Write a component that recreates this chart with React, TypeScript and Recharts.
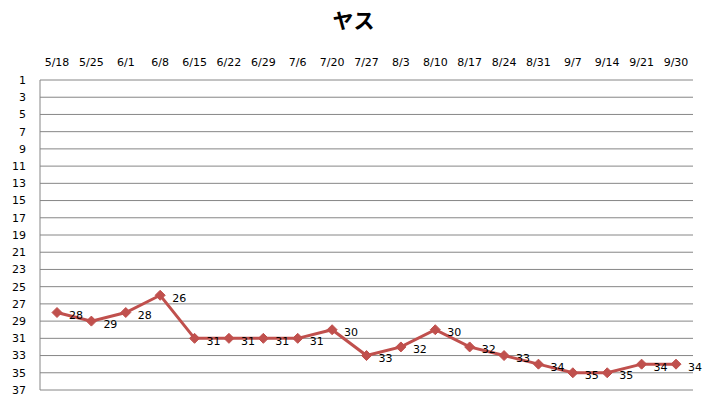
import { LineChart, Line, XAxis, YAxis, CartesianGrid, LabelList } from 'recharts'

const dates = [
  '5/18', '5/25', '6/1', '6/8', '6/15', '6/22', '6/29', '7/6', '7/20', '7/27',
  '8/3', '8/10', '8/17', '8/24', '8/31', '9/7', '9/14', '9/21', '9/30',
]
const ranks = [28, 29, 28, 26, 31, 31, 31, 31, 30, 33, 32, 30, 32, 33, 34, 35, 35, 34, 34]
const yTicks = [1, 3, 5, 7, 9, 11, 13, 15, 17, 19, 21, 23, 25, 27, 29, 31, 33, 35, 37]

const data = dates.map((date, i) => ({ date, rank: ranks[i] }))

const lineColor = '#C0504D'
const gridColor = '#868686'
const font = '"DejaVu Sans", sans-serif'

function Diamond(props: any) {
  const { cx, cy } = props
  if (cx == null || cy == null) return null
  const r = 5
  return (
    <polygon
      points={`${cx},${cy - r} ${cx + r},${cy} ${cx},${cy + r} ${cx - r},${cy}`}
      fill={lineColor}
      stroke={lineColor}
    />
  )
}

function RankLabel(props: any) {
  const { x, y, value } = props
  return (
    <text x={x + 12} y={y + 3} fontSize={11} fontFamily={font} fill="#000" dominantBaseline="central">
      {value}
    </text>
  )
}

export default function App() {
  return (
    <div style={{ position: 'fixed', left: 0, top: 0, width: 707, height: 400, background: '#fff' }}>
      <div
        style={{
          position: 'absolute',
          top: 4,
          left: 0,
          width: 707,
          textAlign: 'center',
          fontFamily: '"Noto Sans CJK JP", sans-serif',
          fontWeight: 'bold',
          fontSize: 21,
          color: '#000',
        }}
      >
        ヤス
      </div>
      <LineChart width={707} height={400} data={data} margin={{ top: 45, right: 14, left: 0, bottom: 10 }}>
        <CartesianGrid horizontal vertical={false} stroke={gridColor} strokeWidth={1} />
        <XAxis
          dataKey="date"
          orientation="top"
          height={35}
          axisLine={false}
          tickLine={false}
          tickSize={0}
          tickMargin={14}
          interval={0}
          padding={{ left: 17, right: 17 }}
          tick={{ fontSize: 11, fontFamily: font, fill: '#000' }}
        />
        <YAxis
          type="number"
          reversed
          domain={[1, 37]}
          ticks={yTicks}
          interval={0}
          width={40}
          axisLine={{ stroke: gridColor }}
          tickLine={false}
          tickSize={0}
          tickMargin={14}
          tick={{ fontSize: 11, fontFamily: font, fill: '#000' }}
        />
        <Line
          dataKey="rank"
          stroke={lineColor}
          strokeWidth={3}
          dot={<Diamond />}
          activeDot={false}
          isAnimationActive={false}
        >
          <LabelList dataKey="rank" content={<RankLabel />} />
        </Line>
      </LineChart>
    </div>
  )
}
